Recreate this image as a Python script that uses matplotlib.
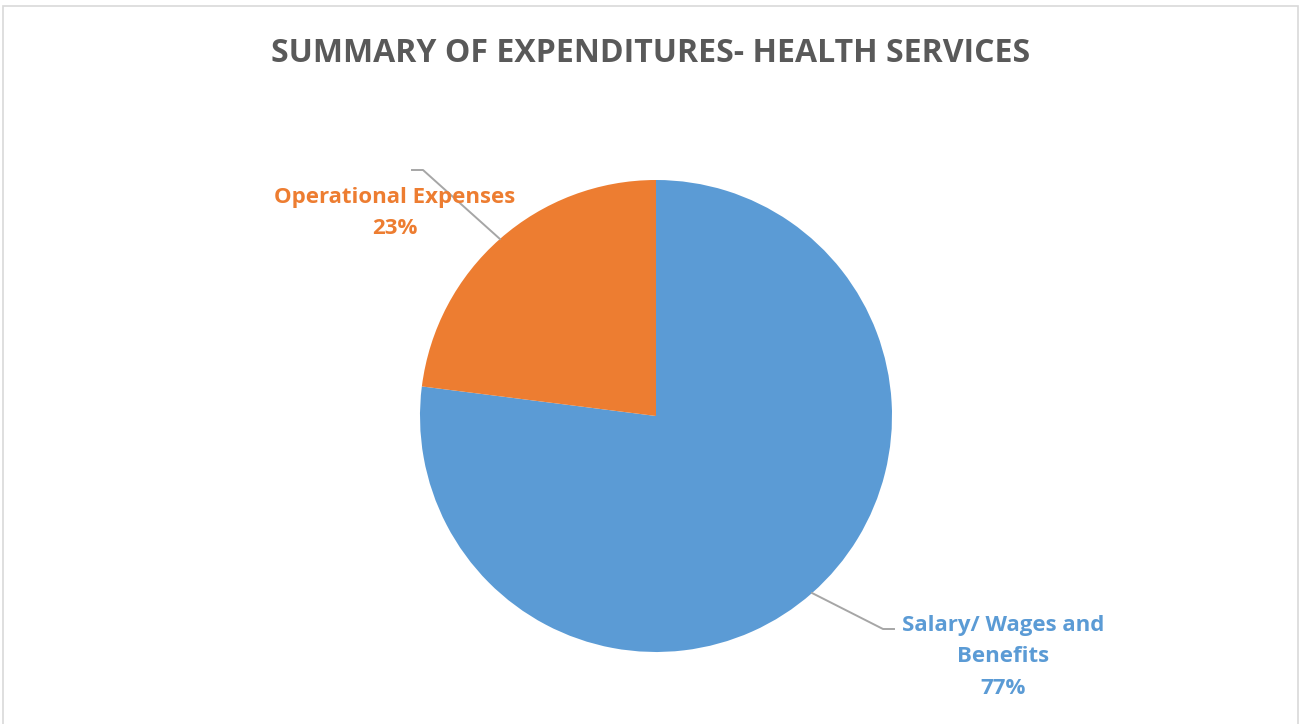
import numpy as np
import matplotlib.pyplot as plt
from matplotlib.patches import Rectangle

categories = ["Salary/ Wages and\nBenefits", "Operational Expenses"]
shares = [77, 23]
colors = ["#5B9BD5", "#ED7D31"]

W, H = 1301, 724
fig = plt.figure(figsize=(W / 100, H / 100), dpi=100)
ax = fig.add_axes([0, 0, 1, 1])

cx, cy, r = 656, H - 416, 236
wedges, _ = ax.pie(shares, colors=colors, startangle=90, counterclock=False,
                   center=(cx, cy), radius=r, frame=True,
                   wedgeprops=dict(linewidth=0))
ax.set_xlim(0, W)
ax.set_ylim(0, H)
ax.set_aspect("equal")
ax.axis("off")

# chart frame
fig.patches.append(Rectangle((3 / W, -0.01), 1295 / W, 1 - 6 / H + 0.01,
                             transform=fig.transFigure, fill=False,
                             edgecolor="#D9D9D9", linewidth=1.2))

ax.text(651, H - 54, "SUMMARY OF EXPENDITURES- HEALTH SERVICES",
        ha="center", va="center", fontsize=23, fontweight="bold",
        color="#595959", family="Open Sans")

# label layout: (elbow point, line end, text position)
layout = [
    ((883, H - 629), (894, H - 629), (1003, H - 657)),
    ((423, H - 170), (412, H - 170), (395, H - 213)),
]

for w, name, val, col, (elbow, end, tpos) in zip(wedges, categories, shares, colors, layout):
    mid = np.deg2rad((w.theta1 + w.theta2) / 2)
    start = (cx + r * np.cos(mid), cy + r * np.sin(mid))
    ax.plot([start[0], elbow[0], end[0]], [start[1], elbow[1], end[1]],
            color="#A6A6A6", linewidth=1.4)
    ax.text(tpos[0], tpos[1], f"{name}\n{val}%", ha="center", va="center",
            fontsize=16, fontweight="bold", color=col, family="Open Sans",
            linespacing=1.68)

fig.savefig("out.png", dpi=100)
